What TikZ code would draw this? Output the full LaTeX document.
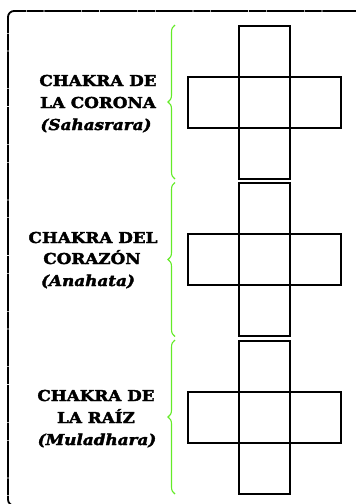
\documentclass[tikz,border=0pt]{standalone}
\usepackage{fontspec}
\usetikzlibrary{decorations.pathreplacing}
\newfontfamily\labfont[FakeStretch=1.12, FakeBold=2.5]{DejaVu Serif}
\definecolor{bracegreen}{RGB}{100,235,40}
\tikzset{
  sq/.style={draw=black, line width=2pt, minimum size=51pt, inner sep=0pt, outer sep=0pt},
  lab/.style={anchor=base, inner sep=0pt, font=\labfont\bfseries\fontsize{15}{17}\selectfont},
  labit/.style={lab, font=\labfont\bfseries\itshape\fontsize{15}{17}\selectfont},
  gbrace/.style={draw=bracegreen, line width=1.1pt, decorate, decoration={brace, amplitude=7pt}},
  frameline/.style={draw=black, line width=1.8pt, rounded corners=6pt,
     dash pattern=on 37pt off 0.8pt on 17pt off 0.8pt, dash phase=15pt}
}
\begin{document}
\begin{tikzpicture}[x=1pt, y=-1pt]
\useasboundingbox (0,0) rectangle (356,504);
\clip (0,0) rectangle (356,504);
% frame
\draw[frameline] (400,11) -- (8,11) -- (8,505.5) -- (400,505.5);
% crosses
\foreach \i/\cy in {1/102, 2/259.5, 3/417} {
  \node[sq] (m\i) at (264.5,\cy) {};
  \node[sq] (t\i) at (264.5,\cy-51) {};
  \node[sq] (b\i) at (264.5,\cy+51) {};
  \node[sq] (l\i) at (213.5,\cy) {};
  \node[sq] (r\i) at (315.5,\cy) {};
  \coordinate (bt\i) at (175,\cy-77);
  \coordinate (bb\i) at (175,\cy+77);
  \draw[gbrace] (bb\i) -- (bt\i);
}
% labels
\node[lab] (a1) at (98,86) {CHAKRA DE};
\node[lab] (a2) at (98,108) {LA CORONA};
\node[labit] (a3) at (96,130) {(Sahasrara)};
\node[lab] (b1n) at (93,243) {CHAKRA DEL};
\node[lab] (b2n) at (92,264) {CORAZÓN};
\node[labit] (b3n) at (88,286) {(Anahata)};
\node[lab] (c1n) at (96,401) {CHAKRA DE};
\node[lab] (c2n) at (96,423) {LA RAÍZ};
\node[labit] (c3n) at (97,445) {(Muladhara)};
\end{tikzpicture}
\end{document}
